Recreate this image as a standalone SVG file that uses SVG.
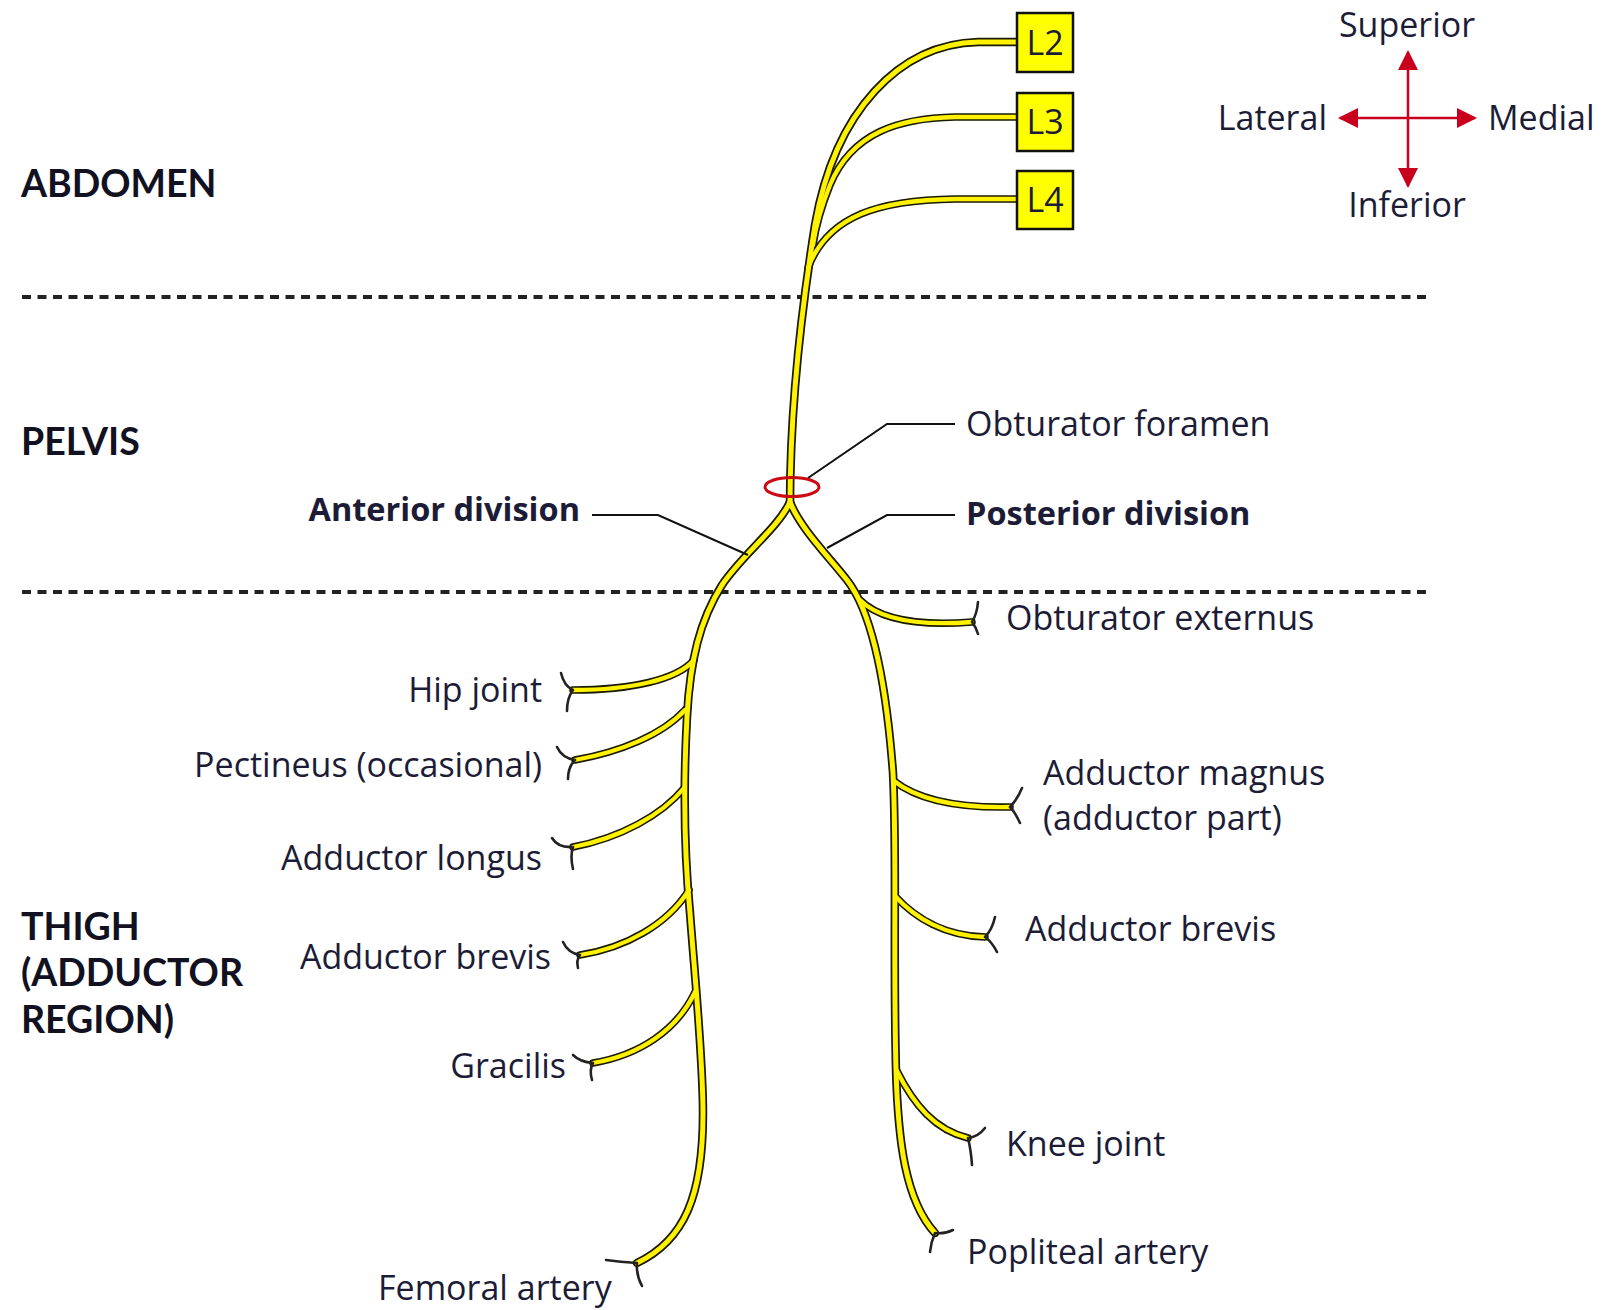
<svg xmlns="http://www.w3.org/2000/svg" xmlns:xlink="http://www.w3.org/1999/xlink" width="1608" height="1310" viewBox="0 0 1608 1310">
<style>
  .t { font-family: "Open Sans", "Noto Sans", "Liberation Sans", sans-serif; font-size: 34px; fill: #1c1c36; }
  .b { font-weight: bold; font-size: 32.5px; }
  .reg { font-family: Lato, "Open Sans", "Liberation Sans", sans-serif; font-weight: bold; font-size: 37.5px; fill: #111122; }
  .dash { stroke: #222; stroke-width: 4; stroke-dasharray: 9 6.5; fill: none; }
  .lead { stroke: #111; stroke-width: 2; fill: none; }
  .outline use { stroke: #1a1a00; fill: none; stroke-linecap: round; stroke-linejoin: round; }
  .core use { stroke: #fff200; fill: none; stroke-linecap: round; stroke-linejoin: round; }
  .outline .trunk { stroke-width: 8.5; }
  .core .trunk { stroke-width: 5; }
  .outline .br { stroke-width: 7.5; }
  .core .br { stroke-width: 4.3; }
  .prong { stroke: #222; stroke-width: 2.6; fill: none; stroke-linecap: round; }
  .box { fill: #ffff00; stroke: #111; stroke-width: 2.5; }
  .arrow { stroke: #c8001e; stroke-width: 2.5; fill: none; }
</style>
<defs>
  <marker id="ah2" viewBox="0 0 20 20" refX="18" refY="10" markerWidth="20" markerHeight="20" markerUnits="userSpaceOnUse" orient="auto-start-reverse">
    <path d="M0,0 L20,10 L0,20 z" fill="#c8001e"/>
  </marker>
  <path id="nL2" d="M1017,42 H978 C900,44 835,110 815,225 C803,300 790,400 790,505"/>
  <path id="nL3" d="M1017,117 H955 C900,118 852,132 830,185 C822,205 816,225 813,245"/>
  <path id="nL4" d="M1017,199 H955 C880,200 828,215 808,268"/>
  <path id="nAnt" d="M790,502 C778,528 742,555 722,585 C700,620 690,660 687,717 C683,790 684,850 690,913 C696,990 703,1060 703,1113 C703,1195 685,1240 637,1263"/>
  <path id="nPost" d="M790,502 C800,528 830,558 847,580 C872,612 886,680 893,773 C897,850 893,950 896,1070 C898,1140 905,1200 935,1233"/>
  <path id="bHip" d="M694,660 C677,680 630,690 573,690"/>
  <path id="bPec" d="M685,710 C662,735 620,752 575,760"/>
  <path id="bLon" d="M684,788 C662,815 620,838 573,847"/>
  <path id="bBreL" d="M689,890 C667,925 625,948 580,955"/>
  <path id="bGra" d="M695,992 C677,1030 640,1055 593,1063"/>
  <path id="bObE" d="M860,600 C880,620 920,626 972,622"/>
  <path id="bMag" d="M894,781 C918,800 960,808 1010,807"/>
  <path id="bBreR" d="M895,896 C915,918 945,936 985,937"/>
  <path id="bKnee" d="M897,1071 C914,1105 935,1130 968,1138"/>
</defs>
<rect width="1608" height="1310" fill="#ffffff"/>

<g id="levels">
  <line class="dash" x1="22" y1="297" x2="1430" y2="297"/>
  <line class="dash" x1="22" y1="592" x2="1430" y2="592"/>
</g>

<g id="connectors">
  <g class="outline">
    <use xlink:href="#nL2" class="trunk"/>
    <use xlink:href="#nL3" class="br"/>
    <use xlink:href="#nL4" class="br"/>
    <use xlink:href="#nAnt" class="trunk"/>
    <use xlink:href="#nPost" class="trunk"/>
    <use xlink:href="#bHip" class="br"/>
    <use xlink:href="#bPec" class="br"/>
    <use xlink:href="#bLon" class="br"/>
    <use xlink:href="#bBreL" class="br"/>
    <use xlink:href="#bGra" class="br"/>
    <use xlink:href="#bObE" class="br"/>
    <use xlink:href="#bMag" class="br"/>
    <use xlink:href="#bBreR" class="br"/>
    <use xlink:href="#bKnee" class="br"/>
  </g>
  <g class="core">
    <use xlink:href="#nL2" class="trunk"/>
    <use xlink:href="#nL3" class="br"/>
    <use xlink:href="#nL4" class="br"/>
    <use xlink:href="#nAnt" class="trunk"/>
    <use xlink:href="#nPost" class="trunk"/>
    <use xlink:href="#bHip" class="br"/>
    <use xlink:href="#bPec" class="br"/>
    <use xlink:href="#bLon" class="br"/>
    <use xlink:href="#bBreL" class="br"/>
    <use xlink:href="#bGra" class="br"/>
    <use xlink:href="#bObE" class="br"/>
    <use xlink:href="#bMag" class="br"/>
    <use xlink:href="#bBreR" class="br"/>
    <use xlink:href="#bKnee" class="br"/>
  </g>
  <g id="prongs">
    <path class="prong" d="M573,690 Q564,686 561,673 M573,690 Q567,698 567,711"/>
    <path class="prong" d="M575,760 Q562,758 557,747 M575,760 Q568,767 568,779"/>
    <path class="prong" d="M573,847 Q558,848 552,838 M573,847 Q570,856 573,869"/>
    <path class="prong" d="M580,955 Q568,953 563,942 M580,955 Q576,960 578,968"/>
    <path class="prong" d="M593,1063 Q580,1062 573,1055 M593,1063 Q589,1070 592,1080"/>
    <path class="prong" d="M637,1263 Q620,1262 606,1260 M637,1263 Q636,1275 642,1286"/>
    <path class="prong" d="M972,622 Q977,614 978,602 M972,622 Q976,627 978,634"/>
    <path class="prong" d="M1010,807 Q1017,800 1022,788 M1010,807 Q1015,812 1020,823"/>
    <path class="prong" d="M985,937 Q992,930 995,917 M985,937 Q992,942 997,952"/>
    <path class="prong" d="M968,1138 Q978,1137 985,1128 M968,1138 Q971,1150 972,1165"/>
    <path class="prong" d="M935,1233 Q945,1234 953,1230 M935,1233 Q931,1242 930,1252"/>
  </g>
  <g id="leaders">
    <polyline class="lead" points="808,478 887,424 955,424"/>
    <polyline class="lead" points="592,515 658,515 748,555"/>
    <polyline class="lead" points="827,548 887,515 955,515"/>
  </g>
</g>

<g id="obturator-foramen-ring">
  <ellipse cx="792" cy="487" rx="27" ry="9.5" fill="none" stroke="#cc0a14" stroke-width="3"/>
</g>

<g id="L2"><rect class="box" x="1017" y="13" width="56" height="59"/><text class="t" x="1045" y="55" text-anchor="middle">L2</text></g>
<g id="L3"><rect class="box" x="1017" y="93" width="56" height="58"/><text class="t" x="1045" y="134" text-anchor="middle">L3</text></g>
<g id="L4"><rect class="box" x="1017" y="171" width="56" height="58"/><text class="t" x="1045" y="212" text-anchor="middle">L4</text></g>

<g id="orientation">
  <line class="arrow" x1="1408" y1="118" x2="1408" y2="52" marker-end="url(#ah2)"/>
  <line class="arrow" x1="1408" y1="118" x2="1408" y2="186" marker-end="url(#ah2)"/>
  <line class="arrow" x1="1408" y1="118" x2="1340" y2="118" marker-end="url(#ah2)"/>
  <line class="arrow" x1="1408" y1="118" x2="1475" y2="118" marker-end="url(#ah2)"/>
  <text class="t" x="1407" y="37" text-anchor="middle">Superior</text>
  <text class="t" x="1327" y="130" text-anchor="end">Lateral</text>
  <text class="t" x="1488" y="130">Medial</text>
  <text class="t" x="1407" y="217" text-anchor="middle">Inferior</text>
</g>

<g id="regions">
  <text class="reg" x="21" y="197">ABDOMEN</text>
  <text class="reg" x="21" y="455">PELVIS</text>
  <text class="reg" x="21" y="940">THIGH</text>
  <text class="reg" x="21" y="986">(ADDUCTOR</text>
  <text class="reg" x="21" y="1033">REGION)</text>
</g>

<g id="labels">
  <text class="t" x="966" y="436">Obturator foramen</text>
  <text class="t b" x="580" y="521" text-anchor="end">Anterior division</text>
  <text class="t b" x="966" y="525">Posterior division</text>
  <text class="t" x="1006" y="630">Obturator externus</text>
  <text class="t" x="542" y="702" text-anchor="end">Hip joint</text>
  <text class="t" x="542" y="777" text-anchor="end">Pectineus (occasional)</text>
  <text class="t" x="542" y="870" text-anchor="end">Adductor longus</text>
  <text class="t" x="551" y="969" text-anchor="end">Adductor brevis</text>
  <text class="t" x="566" y="1078" text-anchor="end">Gracilis</text>
  <text class="t" x="378" y="1300">Femoral artery</text>
  <text class="t" x="1043" y="785">Adductor magnus</text>
  <text class="t" x="1043" y="830">(adductor part)</text>
  <text class="t" x="1025" y="941">Adductor brevis</text>
  <text class="t" x="1006" y="1156">Knee joint</text>
  <text class="t" x="967" y="1264">Popliteal artery</text>
</g>
</svg>
